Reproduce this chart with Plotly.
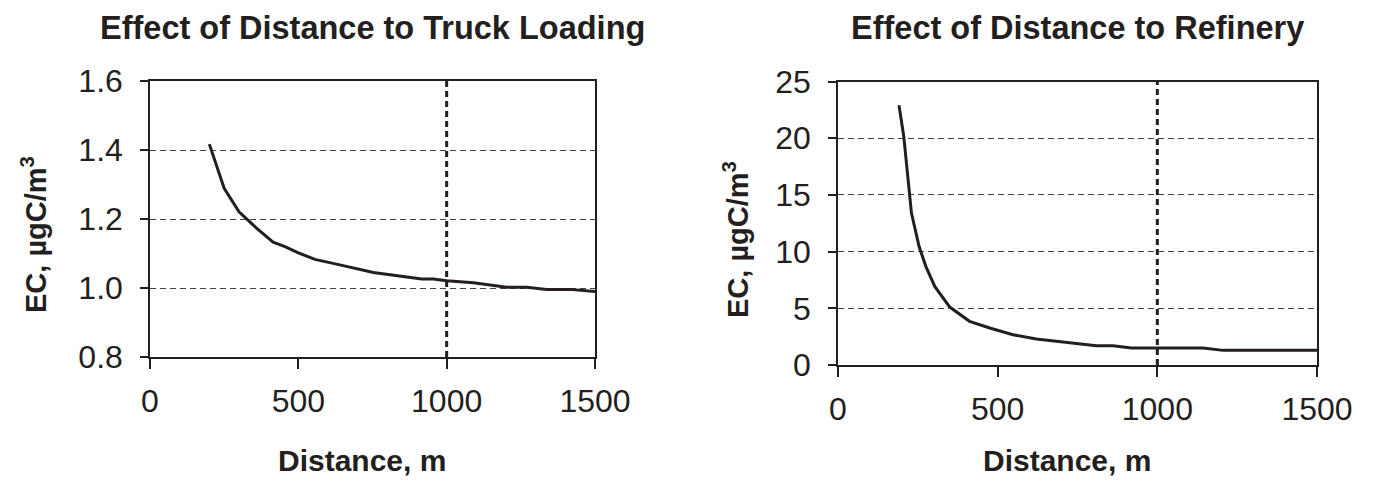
import plotly.graph_objects as go

# ---- data ----
truck_distance = [200, 250, 300, 360, 415, 455, 500, 556, 640, 753, 916, 955, 1000, 1090, 1202, 1270, 1337, 1416, 1500]
truck_ec = [1.417, 1.289, 1.221, 1.173, 1.133, 1.120, 1.102, 1.083, 1.067, 1.045, 1.026, 1.026, 1.021, 1.015, 1.002, 1.002, 0.996, 0.996, 0.990]

refinery_distance = [191, 206, 230, 254, 275, 303, 350, 412, 475, 548, 621, 726, 809, 861, 919, 1143, 1206, 1500]
refinery_ec = [22.9, 20.15, 13.4, 10.45, 8.7, 6.93, 5.11, 3.85, 3.26, 2.67, 2.29, 1.99, 1.70, 1.70, 1.50, 1.50, 1.29, 1.29]

reference_distance = 1000
titles = ["Effect of Distance to Truck Loading", "Effect of Distance to Refinery"]
x_title = "Distance, m"
y_title = "EC, µgC/m<sup>3</sup>"
x_ticks = [0, 500, 1000, 1500]
truck_y_ticks = [0.8, 1.0, 1.2, 1.4, 1.6]
refinery_y_ticks = [0, 5, 10, 15, 20, 25]

FONT = "Liberation Sans, Arial, sans-serif"
INK = "#231f20"
W, H = 1373, 481

fig = go.Figure()
fig.add_trace(go.Scatter(x=truck_distance, y=truck_ec, mode="lines",
                         line=dict(color=INK, width=3), xaxis="x", yaxis="y", showlegend=False))
fig.add_trace(go.Scatter(x=refinery_distance, y=refinery_ec, mode="lines",
                         line=dict(color=INK, width=3), xaxis="x2", yaxis="y2", showlegend=False))

# domains (pixels -> paper)
lx = [150 / W, 595 / W]
rx = [838 / W, 1317 / W]
ly = [(H - 357) / H, (H - 81) / H]
ry = [(H - 365) / H, (H - 81.5) / H]

tickfont = dict(family=FONT, size=32, color=INK)

def xaxis(domain, anchor):
    return dict(domain=domain, anchor=anchor, range=[0, 1500], tickvals=x_ticks,
                showgrid=False, zeroline=False, showline=True, linecolor=INK, linewidth=1.5,
                mirror=True, ticks="outside", ticklen=10, tickwidth=1.5, tickcolor=INK,
                tickfont=tickfont, ticklabelstandoff=5, automargin=False)

def yaxis(domain, anchor, rng, vals, fmt):
    return dict(domain=domain, anchor=anchor, range=rng, tickvals=vals, tickformat=fmt,
                showgrid=True, gridcolor="#444444", gridwidth=1, griddash="6px,4px",
                zeroline=False, showline=True, linecolor=INK, linewidth=1.5, mirror=True,
                ticks="outside", ticklen=8, tickwidth=1.5, tickcolor=INK,
                tickfont=tickfont, ticklabelstandoff=11, automargin=False)

def yinner(overlay, anchor, rng, vals):
    return dict(overlaying=overlay, anchor=anchor, range=rng, tickvals=vals,
                showticklabels=False, showgrid=False, zeroline=False, showline=False,
                ticks="inside", ticklen=7, tickwidth=1.5, tickcolor=INK, automargin=False)

fig.update_layout(
    width=W, height=H, autosize=False,
    margin=dict(l=0, r=0, t=0, b=0, pad=0),
    paper_bgcolor="white", plot_bgcolor="white",
    font=dict(family=FONT, color=INK),
    xaxis=xaxis(lx, "y"),
    yaxis=yaxis(ly, "x", [0.8, 1.6], truck_y_ticks, ".1f"),
    xaxis2=xaxis(rx, "y2"),
    yaxis2=yaxis(ry, "x2", [0, 25], refinery_y_ticks, "d"),
    yaxis3=yinner("y", "x", [0.8, 1.6], truck_y_ticks),
    yaxis4=yinner("y2", "x2", [0, 25], refinery_y_ticks),
)

for xr, yr in (("x", "y"), ("x2", "y2")):
    fig.add_shape(type="line", xref=xr, yref=f"{yr} domain", x0=reference_distance, x1=reference_distance,
                  y0=0, y1=1, line=dict(color=INK, width=3, dash="6px,4px"), layer="above")

annotations = []
for title, dom, ypix, ylab_x in ((titles[0], lx, 235, 34 / W), (titles[1], rx, 239, 736 / W)):
    cx = (dom[0] + dom[1]) / 2
    common = dict(xref="paper", yref="paper", xanchor="center", yanchor="middle", showarrow=False)
    annotations.append(dict(text=f"<b>{title}</b>", x=cx, y=(H - 28) / H,
                            font=dict(family=FONT, size=32.5, color=INK), **common))
    annotations.append(dict(text=f"<b>{x_title}</b>", x=cx - 11 / W, y=(H - 460) / H,
                            font=dict(family=FONT, size=30, color=INK), **common))
    annotations.append(dict(text=f"<b>{y_title}</b>", x=ylab_x, y=(H - ypix) / H,
                            textangle=-90, font=dict(family=FONT, size=29, color=INK), **common))
fig.update_layout(annotations=annotations)

fig.write_html("out.html")
